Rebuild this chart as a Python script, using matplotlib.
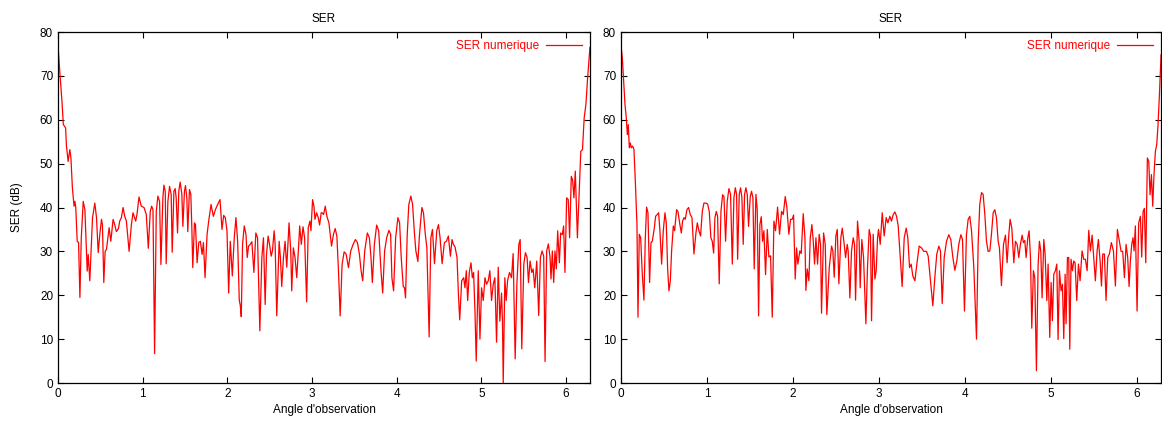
import numpy as np
from matplotlib import pyplot as plt
from matplotlib.ticker import MultipleLocator

plt.rcParams['font.family'] = ['Liberation Sans', 'DejaVu Sans']

# panneau gauche : (angle en rad, SER en dB)
angle_g = [0, 0.024, 0.047, 0.063, 0.078, 0.09, 0.10, 0.12, 0.14, 0.153, 0.17, 0.19, 0.2, 0.21,
           0.227, 0.243, 0.259, 0.275, 0.298, 0.318, 0.345, 0.357, 0.376, 0.408, 0.435, 0.455,
           0.475, 0.494, 0.514, 0.525, 0.541, 0.557, 0.573, 0.604, 0.624, 0.651, 0.67, 0.69,
           0.714, 0.729, 0.749, 0.769, 0.788, 0.808, 0.84, 0.867, 0.886, 0.918, 0.933, 0.957,
           0.984, 1.016, 1.043, 1.067, 1.09, 1.106, 1.122, 1.141, 1.161, 1.18, 1.2, 1.216,
           1.239, 1.251, 1.267, 1.278, 1.298, 1.318, 1.337, 1.349, 1.369, 1.384, 1.396, 1.412,
           1.427, 1.443, 1.463, 1.475, 1.494, 1.506, 1.522, 1.533, 1.553, 1.569, 1.58, 1.592,
           1.612, 1.624, 1.643, 1.663, 1.682, 1.702, 1.718, 1.737, 1.761, 1.78, 1.808, 1.835,
           1.859, 1.886, 1.914, 1.937, 1.957, 1.976, 1.996, 2.016, 2.035, 2.059, 2.082, 2.102,
           2.122, 2.141, 2.153, 2.165, 2.18, 2.2, 2.22, 2.235, 2.251, 2.271, 2.29, 2.314,
           2.337, 2.357, 2.384, 2.408, 2.427, 2.447, 2.463, 2.482, 2.502, 2.518, 2.533, 2.553,
           2.565, 2.584, 2.612, 2.627, 2.643, 2.663, 2.682, 2.702, 2.729, 2.749, 2.761, 2.78,
           2.8, 2.82, 2.839, 2.855, 2.874, 2.894, 2.913, 2.937, 2.956, 2.976, 2.988, 3.007,
           3.023, 3.035, 3.054, 3.074, 3.09, 3.109, 3.121, 3.137, 3.157, 3.176, 3.2, 3.231,
           3.254, 3.274, 3.294, 3.313, 3.333, 3.356, 3.38, 3.403, 3.431, 3.458, 3.486, 3.513,
           3.537, 3.56, 3.58, 3.599, 3.623, 3.654, 3.678, 3.697, 3.713, 3.737, 3.764, 3.788,
           3.815, 3.835, 3.858, 3.882, 3.909, 3.929, 3.944, 3.964, 3.988, 4.015, 4.035, 4.054,
           4.078, 4.093, 4.105, 4.125, 4.144, 4.168, 4.188, 4.208, 4.227, 4.251, 4.27, 4.298,
           4.317, 4.337, 4.357, 4.384, 4.404, 4.423, 4.447, 4.474, 4.494, 4.513, 4.537, 4.564,
           4.588, 4.611, 4.635, 4.654, 4.67, 4.69, 4.713, 4.729, 4.745, 4.768, 4.792, 4.807,
           4.823, 4.839, 4.858, 4.878, 4.894, 4.909, 4.925, 4.94, 4.964, 4.984, 5.003, 5.023,
           5.043, 5.062, 5.082, 5.101, 5.121, 5.141, 5.16, 5.18, 5.2, 5.219, 5.239, 5.25,
           5.259, 5.278, 5.294, 5.31, 5.333, 5.357, 5.376, 5.4, 5.42, 5.443, 5.459, 5.478,
           5.502, 5.521, 5.541, 5.557, 5.576, 5.596, 5.612, 5.631, 5.655, 5.678, 5.698, 5.718,
           5.737, 5.753, 5.772, 5.792, 5.812, 5.823, 5.839, 5.855, 5.87, 5.886, 5.902, 5.922,
           5.937, 5.957, 5.972, 5.988, 6.008, 6.027, 6.043, 6.063, 6.078, 6.094, 6.11, 6.135,
           6.175, 6.195, 6.215, 6.235, 6.258, 6.283]
ser_g = [77, 70.2, 64.2, 58.9, 58.5, 58.1, 54, 50.5, 53.2, 51.3, 44.5, 40.3, 41.4, 40,
         32.3, 32, 19.5, 33, 41.4, 39.5, 25.5, 29.3, 23.3, 37.7, 41, 37.7,
         29.7, 33.9, 37.3, 36.1, 22.9, 30, 30.5, 35.4, 32.3, 37.3, 36.1, 34.5,
         35.2, 36.9, 37.7, 40, 38, 36.9, 30, 36.1, 38.8, 36.9, 38.4, 42.4,
         40.3, 40, 38.4, 30.7, 39.1, 40.3, 39.5, 6.7, 39.1, 42.6, 41.4, 27,
         42.2, 45.1, 43.7, 27.2, 41.4, 44.8, 43, 29.8, 43.7, 44.3, 42.2, 34.2,
         43.7, 45.8, 43, 35.7, 43.7, 45, 42.2, 34.5, 44.1, 43, 36.1, 26.3,
         36.5, 36.1, 27.4, 32, 32.3, 29.3, 32, 24, 33.9, 36.9, 40.7, 38,
         39.5, 40.7, 41.8, 35, 38.2, 37.7, 34.7, 20.5, 32.3, 24.4, 33.1, 37.7,
         32.3, 18.9, 17.7, 15.1, 31.6, 35.8, 33.9, 28.6, 31.2, 31.6, 32.2, 25.2,
         34.2, 33.1, 11.9, 28.6, 33.1, 17.9, 29.3, 33.5, 31.2, 28.9, 30.1, 34.7,
         31.6, 15.3, 32.3, 28.6, 22, 28.6, 32.3, 26.4, 36.5, 30.1, 21, 30.8,
         28.6, 24, 30.1, 35.8, 31.6, 35.6, 33.1, 18.5, 35.4, 36.9, 34.7, 41.8,
         40.3, 37.3, 38.8, 37.7, 36, 38.8, 38.8, 38.4, 40.3, 38, 36.5, 31.2,
         33.9, 35.2, 33.5, 25.6, 15.3, 27.1, 29.9, 29.4, 26.3, 30.1, 31.6, 32.7,
         32, 29.4, 25.6, 23.3, 30.1, 34.2, 33.1, 28.6, 22.9, 31.6, 36, 34.7,
         25.6, 20.5, 30.1, 33.1, 34.8, 33.9, 24, 21, 33.1, 37.7, 36.5, 28.6,
         22, 21.7, 19.4, 33.9, 40.7, 42.6, 40.7, 34.7, 30.1, 27.7, 33.9, 40,
         38.8, 34.2, 30.8, 10.5, 33.1, 35, 27.2, 34.7, 36.1, 33.1, 27.2, 32,
         32.3, 33.5, 28.9, 32.7, 31.6, 31, 28.6, 20.5, 14.4, 23.3, 24, 21.7,
         25.6, 18.8, 25.2, 27.4, 24, 25.2, 16.4, 5, 25.6, 10, 21.7, 18.8,
         24, 22.5, 23.3, 25.6, 18.8, 22.5, 24, 9.3, 26.4, 14.1, 20.5, 14.1,
         0, 24, 18.8, 23.3, 25.2, 24, 29.5, 5.5, 22.5, 31.6, 32.7, 7.8,
         27.1, 29.7, 28.6, 22.9, 27.8, 25.2, 26, 21.7, 27.8, 15.4, 28.6, 30.1,
         28.9, 4.9, 30.1, 31.7, 28.6, 23.7, 30.1, 22.9, 30.1, 26, 34.7, 27.4,
         34.2, 33.8, 35.8, 25.2, 42.2, 41.8, 33.1, 47.1, 46.3, 42.2, 48.3, 33.1,
         52.8, 53.2, 60.4, 63.4, 70.2, 76.5]

# panneau droit
angle_d = [0, 0.016, 0.031, 0.047, 0.062, 0.074, 0.085, 0.097, 0.109, 0.12, 0.136, 0.151, 0.167,
           0.186, 0.198, 0.213, 0.229, 0.248, 0.267, 0.283, 0.298, 0.314, 0.333, 0.349, 0.364,
           0.388, 0.403, 0.422, 0.438, 0.453, 0.473, 0.492, 0.512, 0.527, 0.543, 0.558, 0.574,
           0.589, 0.609, 0.624, 0.647, 0.663, 0.682, 0.702, 0.717, 0.733, 0.748, 0.767, 0.787,
           0.806, 0.826, 0.849, 0.872, 0.888, 0.907, 0.926, 0.946, 0.965, 0.988, 1.008, 1.027,
           1.046, 1.062, 1.078, 1.093, 1.109, 1.124, 1.143, 1.163, 1.182, 1.198, 1.217, 1.236,
           1.256, 1.275, 1.295, 1.314, 1.33, 1.345, 1.357, 1.376, 1.391, 1.407, 1.422, 1.438,
           1.453, 1.469, 1.484, 1.504, 1.519, 1.535, 1.55, 1.57, 1.585, 1.601, 1.616, 1.632,
           1.647, 1.663, 1.682, 1.702, 1.721, 1.74, 1.76, 1.779, 1.798, 1.822, 1.845, 1.868,
           1.888, 1.911, 1.93, 1.953, 1.973, 1.992, 2.008, 2.027, 2.043, 2.058, 2.081, 2.097,
           2.12, 2.14, 2.151, 2.167, 2.186, 2.202, 2.221, 2.237, 2.252, 2.268, 2.287, 2.306,
           2.322, 2.333, 2.357, 2.376, 2.395, 2.423, 2.45, 2.465, 2.481, 2.5, 2.516, 2.535,
           2.558, 2.574, 2.593, 2.613, 2.632, 2.643, 2.663, 2.682, 2.702, 2.717, 2.729, 2.752,
           2.771, 2.783, 2.802, 2.822, 2.849, 2.868, 2.888, 2.903, 2.915, 2.934, 2.954, 2.969,
           2.985, 2.996, 3.016, 3.039, 3.062, 3.085, 3.105, 3.128, 3.147, 3.167, 3.186, 3.206,
           3.225, 3.244, 3.271, 3.295, 3.318, 3.337, 3.357, 3.376, 3.395, 3.419, 3.442, 3.469,
           3.496, 3.523, 3.554, 3.574, 3.597, 3.628, 3.651, 3.674, 3.698, 3.717, 3.737, 3.76,
           3.787, 3.814, 3.837, 3.861, 3.884, 3.907, 3.93, 3.954, 3.973, 3.996, 4.019, 4.039,
           4.058, 4.078, 4.105, 4.136, 4.155, 4.174, 4.194, 4.213, 4.233, 4.252, 4.271, 4.291,
           4.31, 4.33, 4.349, 4.368, 4.388, 4.403, 4.426, 4.45, 4.473, 4.492, 4.512, 4.527,
           4.547, 4.57, 4.589, 4.609, 4.628, 4.647, 4.667, 4.682, 4.698, 4.713, 4.733, 4.748,
           4.764, 4.779, 4.798, 4.814, 4.833, 4.853, 4.868, 4.884, 4.899, 4.919, 4.934, 4.954,
           4.969, 4.988, 5.004, 5.019, 5.035, 5.054, 5.07, 5.085, 5.101, 5.12, 5.136, 5.151,
           5.167, 5.178, 5.194, 5.209, 5.221, 5.236, 5.252, 5.267, 5.283, 5.302, 5.322, 5.341,
           5.364, 5.384, 5.403, 5.423, 5.442, 5.461, 5.481, 5.5, 5.519, 5.539, 5.554, 5.574,
           5.59, 5.605, 5.624, 5.643, 5.663, 5.682, 5.705, 5.729, 5.752, 5.775, 5.798, 5.818,
           5.837, 5.857, 5.876, 5.895, 5.911, 5.926, 5.942, 5.957, 5.969, 5.984, 6.004, 6.023,
           6.043, 6.058, 6.074, 6.089, 6.105, 6.124, 6.14, 6.155, 6.171, 6.186, 6.201, 6.217,
           6.233, 6.248, 6.264, 6.283]
ser_d = [77, 74, 68.7, 63.4, 60.4, 56.6, 58.9, 53.6, 54.7, 53.6, 54, 53.2, 46,
         36.1, 15, 33.9, 33.1, 24.8, 18.9, 33.1, 40.1, 38.8, 22.9, 32, 32.3,
         35.3, 38, 38.4, 38.8, 34.7, 27.1, 34.7, 38.8, 36.5, 26, 21, 23.3,
         30.1, 35.8, 34.7, 39.5, 39.1, 36.5, 34.2, 36.9, 37.7, 37.3, 39.5, 40,
         38.4, 37.7, 29.4, 34.2, 36.5, 34.7, 33.5, 39.1, 41, 41, 40.8, 39.1,
         33.1, 32.3, 29.6, 37.7, 39.1, 38, 22.6, 39.1, 42.9, 42.5, 32.3, 41.4,
         44.3, 43, 27.1, 42.2, 44.5, 43, 28.2, 43, 44.5, 42.2, 31.6, 43,
         44.5, 43, 35.7, 42.5, 43.7, 42.2, 26, 43, 39.5, 15.3, 36.1, 37.9,
         32.3, 34.7, 24.7, 35, 28.7, 29, 15, 36.9, 34.7, 40.1, 33.9, 39.1,
         38.4, 42.5, 40, 33.9, 37.3, 37.3, 38.3, 23.7, 30.8, 27.1, 30.1, 29.5,
         38.6, 33.1, 21.1, 26, 23.3, 33.1, 36.1, 32.3, 27.1, 33.1, 27.1, 33.9,
         31.6, 15.9, 34.2, 31.6, 15.6, 26.3, 31.2, 30.1, 24.1, 33.5, 35, 22.6,
         33.1, 35.3, 32.3, 28.6, 31.6, 30.1, 19.4, 30.1, 33.1, 31.6, 18.9, 36.9,
         32.3, 21.7, 32.7, 28.6, 13.5, 26.5, 35, 33.5, 14.2, 33.9, 23.7, 25.6,
         33.1, 35, 31.6, 38.8, 33.5, 37.7, 36.5, 38, 36.9, 38.4, 39, 38,
         35.8, 30.1, 22, 33.1, 35.3, 33.1, 26.3, 27.1, 24.4, 23.3, 27.1, 31.2,
         30.8, 30, 30, 28.9, 24, 17.6, 24, 29.4, 31.2, 30.1, 18.1, 28.6,
         32.3, 33.8, 32.7, 28.6, 25.7, 27.8, 31.6, 33.8, 32.7, 16.4, 33.8, 37.3,
         38, 34.7, 26.3, 10, 31.6, 40.7, 43.4, 43, 38.4, 32.3, 30, 30.1,
         33.9, 38.8, 39.5, 37.7, 32.3, 30.8, 22.2, 31.6, 33.7, 27.4, 33.8, 37.3,
         35.3, 27.4, 32.3, 31.6, 28.6, 31.6, 33.7, 32, 32.5, 28.6, 33.1, 34.7,
         28.6, 12.5, 25.6, 24, 2.8, 27.1, 32.3, 30, 19.4, 32.7, 29.4, 18.8,
         27.1, 10.4, 22.9, 14.2, 24.8, 25.6, 27.1, 9.9, 25.6, 21, 22.5, 10.1,
         24.8, 13.5, 28.6, 28.6, 7.7, 28.2, 25.6, 27.8, 27.4, 18.8, 27.1, 23.3,
         30.1, 28.2, 28.2, 25.6, 34.8, 30.1, 33.7, 28.6, 23.3, 30.1, 32.7, 27.8,
         22.1, 29.4, 29.4, 18.8, 28.6, 29.4, 32, 30.1, 22.1, 35, 32.3, 30,
         30, 24, 31.6, 28.6, 22, 27.8, 31.6, 33.1, 30.1, 35.8, 16.4, 36.5,
         38, 28.7, 39.1, 39.8, 27.4, 51.3, 50.5, 42.9, 47.5, 40.3, 47.5, 52.8,
         54.4, 58.9, 65.7, 74.8]

fig = plt.figure(figsize=(11.62, 4.25), dpi=100)
ax1 = fig.add_axes([0.0499, 0.0988, 0.4578, 0.8259])
ax2 = fig.add_axes([0.5344, 0.0988, 0.4648, 0.8259])

for ax, x, y in [(ax1, angle_g, ser_g), (ax2, angle_d, ser_d)]:
    ax.plot(x, y, color='#ff0000', lw=0.9, label='SER numerique')
    ax.set_xlim(0, 2 * np.pi)
    ax.set_ylim(0, 80)
    ax.xaxis.set_major_locator(MultipleLocator(1))
    ax.yaxis.set_major_locator(MultipleLocator(10))
    ax.tick_params(direction='in', top=True, right=True, length=4, width=0.8, labelsize=8.5)
    ax.set_title('SER', fontsize=8.5, pad=7)
    ax.set_xlabel("Angle d'observation", fontsize=8.5, labelpad=3)
    for s in ax.spines.values():
        s.set_linewidth(0.9)
    ax.legend(loc='upper right', frameon=False, markerfirst=False, fontsize=8.5,
              labelcolor='#ff0000', handlelength=3.0, borderaxespad=0.3, handletextpad=0.6)

ax1.set_ylabel('SER (dB)', fontsize=8.5, labelpad=12)

fig.savefig('out.png', dpi=100)
